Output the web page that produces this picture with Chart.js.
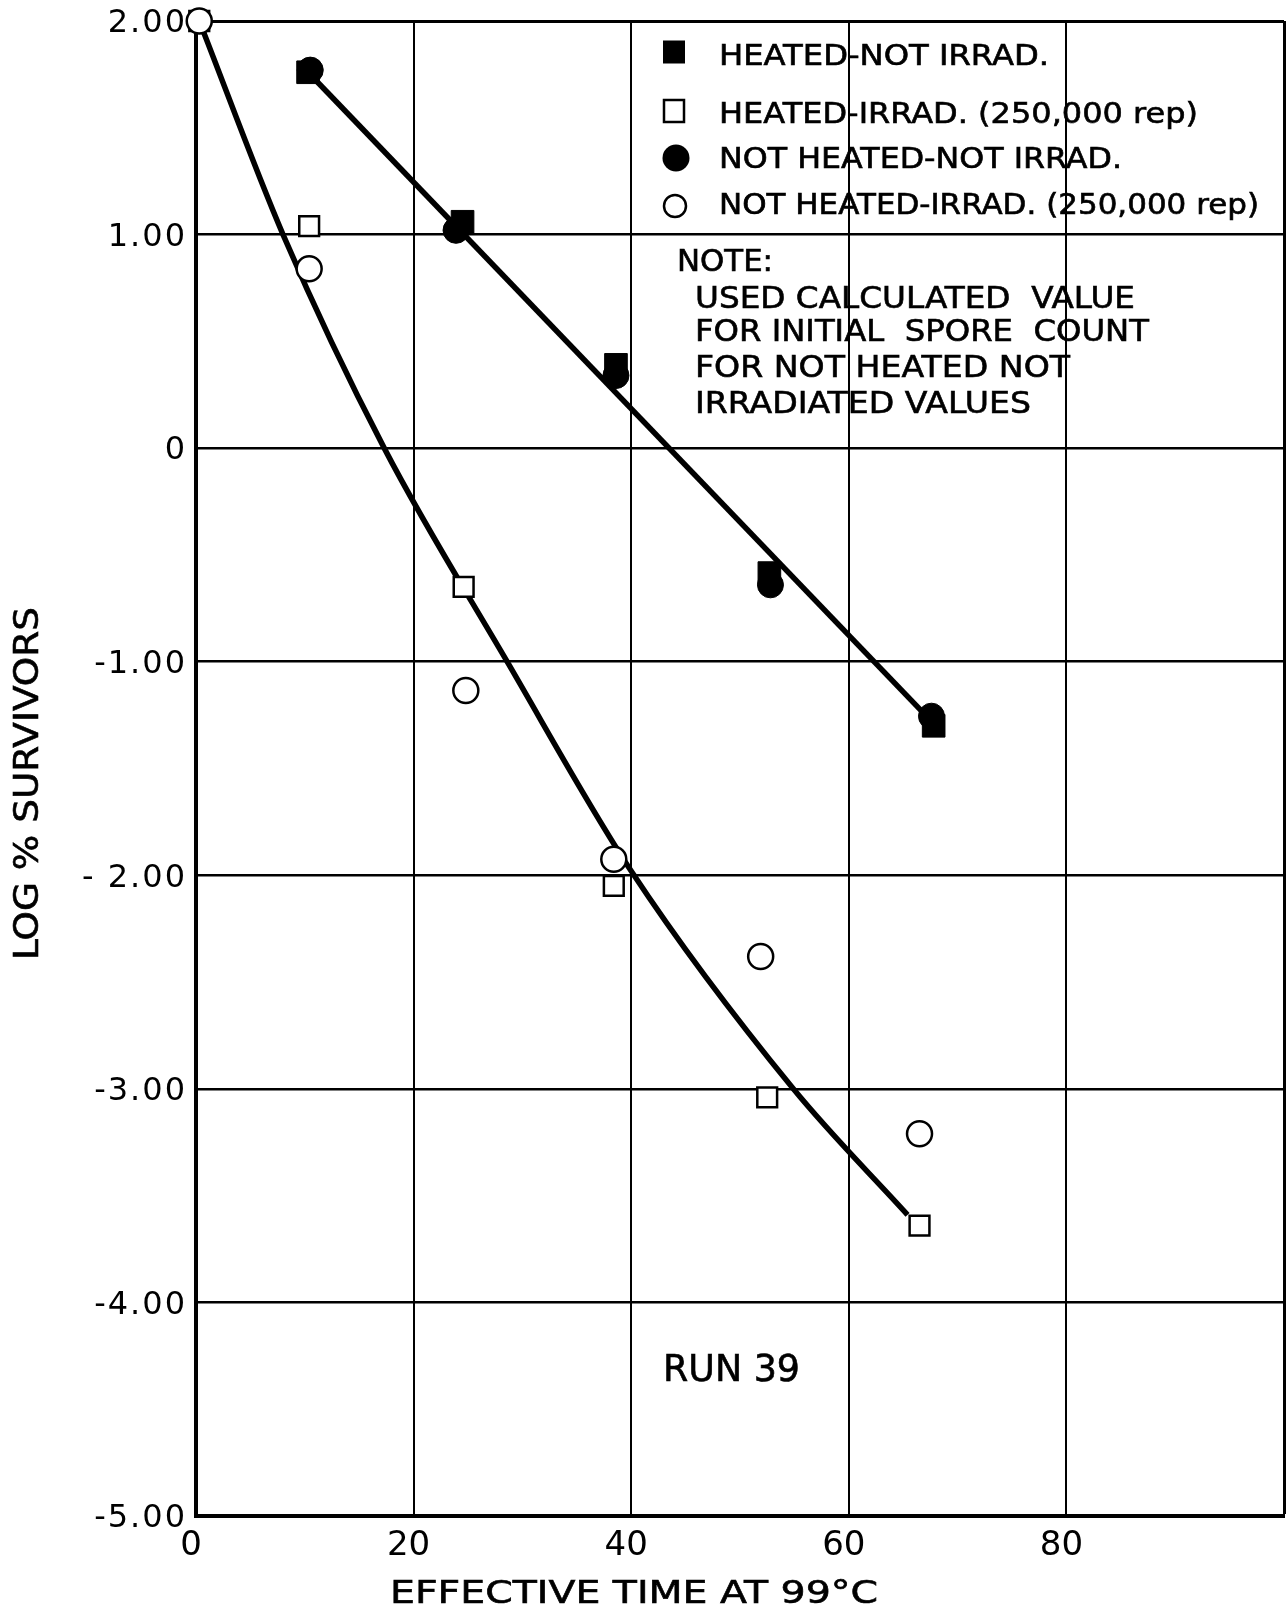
<!DOCTYPE html>
<html><head><meta charset="utf-8">
<script src="https://cdn.jsdelivr.net/npm/chart.js@4"></script>
<style>html,body{margin:0;padding:0;background:#fff}canvas{display:block}</style>
</head><body>
<canvas id="c" width="1286" height="1618" style="width:1286px;height:1618px"></canvas>
<script>
// ---- axis ticks ----
const xTickValues = [0, 20, 40, 60, 80, 100];
const xTickLabels = ['0', '20', '40', '60', '80', ''];
const yTickValues = [-5, -4, -3, -2, -1, 0, 1, 2];
const yTickLabels = ['-5.00', '-4.00', '-3.00', '- 2.00', '-1.00', '0', '1.00', '2.00'];

// ---- series ----
const heatedNotIrradX = [10.3, 24.5, 38.6, 52.7, 67.8];
const heatedNotIrradY = [1.76, 1.06, 0.39, -0.585, -1.30];
const heatedIrradX = [0.3, 10.4, 24.6, 38.4, 52.5, 66.5];
const heatedIrradY = [2.0, 1.04, -0.65, -2.05, -3.04, -3.64];
const notHeatedNotIrradX = [10.5, 23.9, 38.6, 52.8, 67.6];
const notHeatedNotIrradY = [1.77, 1.02, 0.34, -0.64, -1.255];
const notHeatedIrradX = [0.3, 10.4, 24.8, 38.4, 51.9, 66.5];
const notHeatedIrradY = [2.0, 0.84, -1.135, -1.925, -2.38, -3.21];

// fitted lines drawn on the original
const notIrradFitX = [10.3, 67.8];
const notIrradFitY = [1.76, -1.29];
const irradFitX = [0.3, 8.0, 17.3, 28.6, 40.0, 54.9, 65.4];
const irradFitY = [2.0, 1.0, 0.0, -1.0, -1.98, -3.0, -3.59];

// ---- texts ----
const legendLabels = [
  'HEATED-NOT IRRAD.',
  'HEATED-IRRAD. (250,000 rep)',
  'NOT HEATED-NOT IRRAD.',
  'NOT HEATED-IRRAD. (250,000 rep)'
];
const noteTitle = 'NOTE:';
const noteLines = ['USED CALCULATED  VALUE', 'FOR INITIAL  SPORE  COUNT', 'FOR NOT HEATED NOT', 'IRRADIATED VALUES'];
const runLabel = 'RUN 39';
const xTitle = 'EFFECTIVE TIME AT 99°C';
const yTitle = 'LOG % SURVIVORS';

const pts = (xs, ys) => xs.map((x, i) => ({x: x, y: ys[i]}));
const FONT = "'DejaVu Sans', 'Liberation Sans', sans-serif";

// draws text scaled horizontally so it spans the given width
function drawText(ctx, str, x, yc, size, width, align) {
  ctx.save();
  ctx.font = size + 'px ' + FONT;
  ctx.letterSpacing = '0px';
  const w = ctx.measureText(str).width;
  const sx = width / w;
  let x0 = x;
  if (align === 'center') x0 = x - width / 2;
  ctx.translate(x0, yc + 0.3645 * size);
  ctx.scale(sx, 1);
  ctx.fillStyle = '#000';
  ctx.strokeStyle = '#000';
  ctx.lineWidth = 0.6;
  ctx.textAlign = 'left';
  ctx.textBaseline = 'alphabetic';
  ctx.fillText(str, 0, 0);
  ctx.strokeText(str, 0, 0);
  ctx.restore();
}

function noPad(s) { s.paddingTop = 0; s.paddingBottom = 0; s.paddingLeft = 0; s.paddingRight = 0; }

const decorPlugin = {
  id: 'decor',
  beforeDraw(chart) {
    const ctx = chart.ctx;
    ctx.save();
    ctx.fillStyle = '#fff';
    ctx.fillRect(0, 0, chart.width, chart.height);
    ctx.restore();
    const ys = chart.scales.y;
    if (ys && !ys._spaced) {
      ys._spaced = true;
      const orig = Object.getPrototypeOf(ys).drawLabels;
      ys.drawLabels = function (area) {
        this.ctx.save();
        this.ctx.letterSpacing = '2px';
        orig.call(this, area);
        this.ctx.restore();
      };
    }
  },
  afterDraw(chart) {
    const ctx = chart.ctx;
    // legend markers
    ctx.save();
    ctx.fillStyle = '#000';
    ctx.strokeStyle = '#000';
    ctx.fillRect(674 - 11, 52 - 11.5, 22, 23);
    ctx.lineWidth = 2.5;
    ctx.fillStyle = '#fff';
    ctx.fillRect(674 - 10, 111 - 11, 20, 22);
    ctx.strokeRect(674 - 10, 111 - 11, 20, 22);
    ctx.fillStyle = '#000';
    ctx.beginPath(); ctx.arc(676, 158, 13.5, 0, Math.PI * 2); ctx.fill();
    ctx.beginPath(); ctx.arc(675, 206, 11, 0, Math.PI * 2);
    ctx.fillStyle = '#fff'; ctx.fill(); ctx.stroke();
    ctx.restore();

    const rows = [55, 113, 158, 204];
    const rowW = [330, 479, 403, 540];
    legendLabels.forEach((t, i) => drawText(ctx, t, 719, rows[i], 27.5, rowW[i], 'left'));

    drawText(ctx, noteTitle, 677, 260, 29.5, 96, 'left');
    const noteRows = [297, 330, 366, 402];
    const noteW = [440, 454, 375, 336];
    noteLines.forEach((t, i) => drawText(ctx, t, 695, noteRows[i], 29.5, noteW[i], 'left'));

    drawText(ctx, runLabel, 663, 1368, 37, 137, 'left');

    drawText(ctx, xTitle, 634, 1592, 31.5, 488, 'center');

    ctx.save();
    ctx.translate(25.5, 783.5);
    ctx.rotate(-Math.PI / 2);
    drawText(ctx, yTitle, 0, 0, 34, 353, 'center');
    ctx.restore();
  }
};

new Chart(document.getElementById('c'), {
  type: 'scatter',
  data: {
    datasets: [
      {label: 'fit not irradiated', data: pts(notIrradFitX, notIrradFitY), showLine: true,
       borderColor: '#000', borderWidth: 5.5, pointRadius: 0, order: 10, clip: false},
      {label: 'fit irradiated', data: pts(irradFitX, irradFitY), showLine: true,
       cubicInterpolationMode: 'monotone', borderColor: '#000', borderWidth: 5.5, pointRadius: 0, order: 9, clip: false},
      {label: legendLabels[0], data: pts(heatedNotIrradX, heatedNotIrradY), pointStyle: 'rect',
       pointRadius: 16, pointBackgroundColor: '#000', pointBorderColor: '#000', pointBorderWidth: 1, order: 4, clip: false},
      {label: legendLabels[2], data: pts(notHeatedNotIrradX, notHeatedNotIrradY), pointStyle: 'circle',
       pointRadius: 13, pointBackgroundColor: '#000', pointBorderColor: '#000', pointBorderWidth: 1, order: 3, clip: false},
      {label: legendLabels[1], data: pts(heatedIrradX, heatedIrradY), pointStyle: 'rect',
       pointRadius: 14, pointBackgroundColor: '#fff', pointBorderColor: '#000', pointBorderWidth: 2.5, order: 2, clip: false},
      {label: legendLabels[3], data: pts(notHeatedIrradX, notHeatedIrradY), pointStyle: 'circle',
       pointRadius: 12.5, pointBackgroundColor: '#fff', pointBorderColor: '#000', pointBorderWidth: 2.5, order: 1, clip: false}
    ]
  },
  options: {
    responsive: false,
    animation: false,
    devicePixelRatio: 1,
    layout: {autoPadding: false, padding: {top: 21, right: 2, left: 0, bottom: 0}},
    plugins: {legend: {display: false}, tooltip: {enabled: false}, title: {display: false}},
    scales: {
      x: {
        type: 'linear', min: 0, max: 100,
        afterFit(s) { s.height = 102; noPad(s); },
        afterBuildTicks(s) { s.ticks = xTickValues.map(v => ({value: v})); },
        ticks: {
          stepSize: 20, color: '#000', padding: 10, labelOffset: -5, maxRotation: 0,
          font: {family: FONT, size: 34},
          callback: v => { const i = xTickValues.indexOf(v); return i < 0 ? '' : xTickLabels[i]; }
        },
        grid: {color: '#000', drawTicks: false, lineWidth: c => (c.tick && c.tick.value === 100) ? 3 : 2},
        border: {display: true, color: '#000', width: 4}
      },
      y: {
        type: 'linear', min: -5, max: 2,
        afterFit(s) { s.width = 196; noPad(s); },
        afterBuildTicks(s) { s.ticks = yTickValues.map(v => ({value: v})); },
        ticks: {
          stepSize: 1, color: '#000', padding: 9, labelOffset: 3,
          font: {family: FONT, size: 32},
          callback: v => { const i = yTickValues.indexOf(v); return i < 0 ? '' : yTickLabels[i]; }
        },
        grid: {color: '#000', drawTicks: false, lineWidth: c => (c.tick && c.tick.value === 2) ? 3 : 2.5},
        border: {display: true, color: '#000', width: 4}
      }
    }
  },
  plugins: [decorPlugin]
});
</script>
</body></html>
